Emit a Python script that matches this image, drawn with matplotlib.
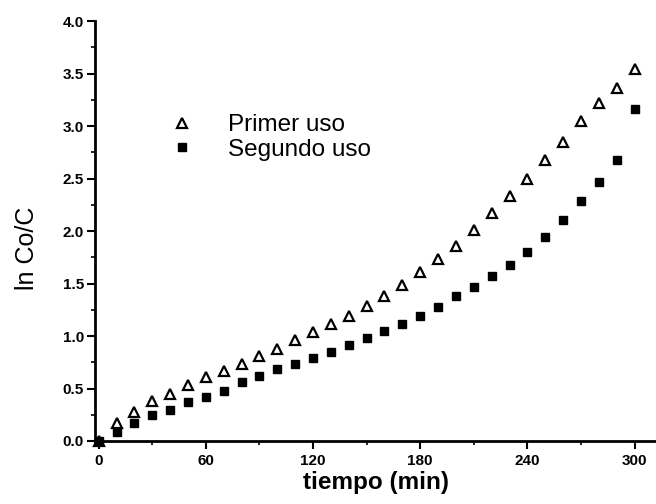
import numpy as np
import matplotlib
matplotlib.use('Agg')
import matplotlib.pyplot as plt
from matplotlib.ticker import MultipleLocator

plt.rcParams['font.family'] = ['Liberation Sans', 'DejaVu Sans']

# data
tiempo = [0, 10, 20, 30, 40, 50, 60, 70, 80, 90, 100, 110, 120, 130, 140, 150,
          160, 170, 180, 190, 200, 210, 220, 230, 240, 250, 260, 270, 280, 290, 300]
primer_uso = [0.0, 0.17, 0.28, 0.38, 0.45, 0.53, 0.61, 0.67, 0.73, 0.81, 0.88, 0.96,
              1.04, 1.11, 1.19, 1.29, 1.38, 1.49, 1.61, 1.73, 1.86, 2.01, 2.17,
              2.33, 2.50, 2.68, 2.85, 3.05, 3.22, 3.36, 3.54]
segundo_uso = [0.0, 0.09, 0.17, 0.25, 0.30, 0.37, 0.42, 0.48, 0.56, 0.62, 0.69, 0.73,
               0.79, 0.85, 0.91, 0.98, 1.05, 1.11, 1.19, 1.28, 1.38, 1.47, 1.57,
               1.68, 1.80, 1.94, 2.11, 2.29, 2.47, 2.68, 3.16]

fig = plt.figure(figsize=(6.56, 5.04), dpi=100)
ax = fig.add_axes([0.145, 0.125, 0.855, 0.833])

ax.plot(tiempo, primer_uso, linestyle='none', marker='^', markersize=7,
        markerfacecolor='white', markeredgecolor='black', markeredgewidth=1.6,
        label='Primer uso', clip_on=False)
ax.plot(tiempo, segundo_uso, linestyle='none', marker='s', markersize=5.5,
        color='black', label='Segundo uso', clip_on=False)

ax.set_xlim(-2, 312)
ax.set_ylim(0, 4.0)
ax.xaxis.set_major_locator(MultipleLocator(60))
ax.xaxis.set_minor_locator(MultipleLocator(30))
ax.yaxis.set_major_locator(MultipleLocator(0.5))
ax.yaxis.set_minor_locator(MultipleLocator(0.25))
ax.yaxis.set_major_formatter(matplotlib.ticker.FormatStrFormatter('%.1f'))

for s in ['top', 'right']:
    ax.spines[s].set_visible(False)
for s in ['left', 'bottom']:
    ax.spines[s].set_linewidth(2)
ax.tick_params(which='major', direction='out', length=6, width=1.5, labelsize=11)
ax.tick_params(which='minor', direction='out', length=3, width=1.2)
ax.tick_params(axis='y', pad=2)
for lab in ax.get_xticklabels() + ax.get_yticklabels():
    lab.set_fontweight('bold')

ax.set_xlabel('tiempo (min)', fontsize=17.5, fontweight='bold', labelpad=2)
ax.set_ylabel('ln Co/C', fontsize=18)
ax.yaxis.set_label_coords(-0.1, 0.46)

ax.legend(loc='upper left', bbox_to_anchor=(0.094, 0.83), frameon=False,
          fontsize=17.5, handletextpad=1.4, labelspacing=0.1, handlelength=1.0)

plt.savefig('out.png', dpi=100)
